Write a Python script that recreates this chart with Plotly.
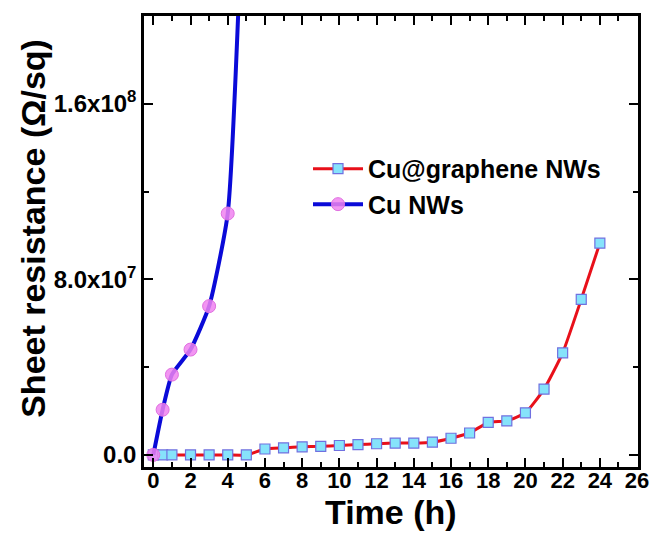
import plotly.graph_objects as go

# Cu@graphene NWs
t_cug = [0, 0.5, 1, 2, 3, 4, 5, 6, 7, 8, 9, 10, 11, 12, 13, 14, 15, 16, 17, 18, 19, 20, 21, 22, 23, 24]
r_cug = [0, 0, 0, 0, 0, 0, 0, 2.7e6, 3.2e6, 3.7e6, 3.9e6, 4.3e6, 4.7e6, 5.1e6, 5.4e6, 5.4e6, 5.8e6,
         7.6e6, 1.0e7, 1.48e7, 1.55e7, 1.92e7, 3.0e7, 4.65e7, 7.09e7, 9.65e7]

# Cu NWs
t_cu = [0, 0.5, 1, 2, 3, 4, 5]
r_cu = [0, 2.06e7, 3.66e7, 4.8e7, 6.78e7, 1.10e8, 3.0e8]

y_tickvals = [0, 8.0e7, 1.6e8]
y_ticktext = ["0.0", "8.0x10<sup>7</sup>", "1.6x10<sup>8</sup>"]

FONT = "Liberation Sans, Arial, sans-serif"

fig = go.Figure()
fig.add_trace(go.Scatter(
    x=t_cug, y=r_cug, name="Cu@graphene NWs", mode="lines+markers",
    line=dict(color="#e8101a", width=3, shape="spline", smoothing=0.5),
    marker=dict(symbol="square", size=10, color="#86e3fb", line=dict(color="#7070e0", width=1.2)),
))
fig.add_trace(go.Scatter(
    x=t_cu, y=r_cu, name="Cu NWs", mode="lines+markers",
    line=dict(color="#0a0ad8", width=4, shape="spline", smoothing=0.5),
    marker=dict(symbol="circle", size=13, color="rgba(240,130,240,0.85)", line=dict(color="#e070e0", width=1)),
))

axis_common = dict(
    showline=True, linecolor="black", linewidth=2.5, mirror="allticks",
    ticks="inside", ticklen=9, tickwidth=2, tickcolor="black",
    showgrid=False, zeroline=False, automargin=False,
)

fig.update_xaxes(
    range=[-0.5, 26.05], tick0=0, dtick=2,
    minor=dict(dtick=1, ticks="inside", ticklen=5, tickwidth=2, tickcolor="black"),
    tickfont=dict(family=FONT, size=22, color="black", weight="bold"),
    ticklabelstandoff=-8,
    **axis_common,
)
fig.update_yaxes(
    range=[-5.5e6, 2.0e8], tickvals=y_tickvals, ticktext=y_ticktext,
    minor=dict(tickvals=[4.0e7, 1.2e8], ticks="inside", ticklen=5, tickwidth=2, tickcolor="black"),
    tickfont=dict(family=FONT, size=24, color="black", weight="bold"),
    **axis_common,
)

fig.add_annotation(text="Time (h)", xref="paper", yref="paper", x=0.5, y=-0.1,
                   xanchor="center", yanchor="middle", showarrow=False,
                   font=dict(family=FONT, size=34, color="black", weight="bold"))
fig.add_annotation(text="Sheet resistance (Ω/sq)", xref="paper", yref="paper", x=-0.225, y=0.53,
                   xanchor="center", yanchor="middle", showarrow=False, textangle=-90,
                   font=dict(family=FONT, size=34, color="black", weight="bold"))

fig.update_layout(
    width=646, height=525,
    margin=dict(l=136, r=16, t=8, b=66),
    plot_bgcolor="white", paper_bgcolor="white",
    legend=dict(x=0.332, y=0.712, xanchor="left", yanchor="top", bgcolor="rgba(0,0,0,0)",
                font=dict(family=FONT, size=25, color="black", weight="bold"),
                itemwidth=50, tracegroupgap=0),
    showlegend=True,
)

fig.write_html("out.html")
